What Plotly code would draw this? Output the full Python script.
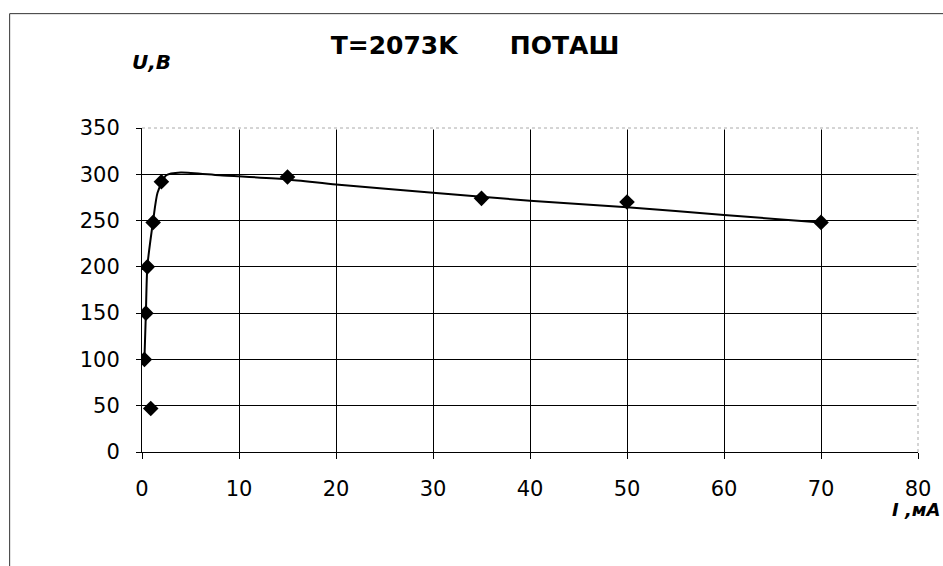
import plotly.graph_objects as go

# Measured points
I_mA = [0.9, 0.25, 0.4, 0.55, 1.15, 2.0, 15, 35, 50, 70]
U_V = [47, 100, 150, 200, 248, 292, 297, 274, 270, 248]

# Smoothed trend curve
trend_I = [0.25, 0.4, 0.55, 1.15, 1.6, 2.5, 4, 8, 15, 20, 30, 40, 50, 60, 70]
trend_U = [100, 150, 200, 250, 280, 299, 302, 299, 294.5, 289, 280, 271.5, 264.5, 256, 248]

x_ticks = [0, 10, 20, 30, 40, 50, 60, 70, 80]
y_ticks = [0, 50, 100, 150, 200, 250, 300, 350]

FONT = "DejaVu Sans"

fig = go.Figure()
fig.add_trace(go.Scatter(
    x=trend_I, y=trend_U, mode="lines",
    line=dict(color="black", width=2, shape="spline", smoothing=0.6),
    hoverinfo="skip", showlegend=False))
fig.add_trace(go.Scatter(
    x=I_mA, y=U_V, mode="markers",
    marker=dict(symbol="diamond", size=12, color="black"),
    showlegend=False))

fig.update_layout(
    width=943, height=566,
    margin=dict(l=142, r=25, t=128, b=114),
    paper_bgcolor="white", plot_bgcolor="white",
    font=dict(family=FONT, color="black", size=21),
    title=dict(text="<b>T=2073K\u00a0\u00a0\u00a0\u00a0\u00a0\u00a0ПОТАШ</b>",
               x=475/943, xanchor="center", xref="container",
               y=1-45/566, yanchor="middle", yref="container",
               font=dict(family=FONT, size=25, color="black")),
    xaxis=dict(range=[0, 80], tickvals=x_ticks, ticktext=[str(v) for v in x_ticks],
               showgrid=True, gridcolor="black", gridwidth=1,
               zeroline=False, showline=True, linecolor="black", linewidth=1,
               ticks="outside", ticklen=6, tickcolor="black",
               ticklabelstandoff=12,
               tickfont=dict(family=FONT, size=21, color="black")),
    yaxis=dict(range=[0, 350], tickvals=y_ticks, ticktext=[str(v) for v in y_ticks],
               showgrid=True, gridcolor="black", gridwidth=1,
               zeroline=False, showline=True, linecolor="black", linewidth=1,
               ticks="outside", ticklen=5, tickcolor="black",
               ticklabelstandoff=12,
               tickfont=dict(family=FONT, size=21, color="black")),
    shapes=[
        # cover top and right grid edges, redraw as light dotted border
        dict(type="line", xref="paper", yref="paper", x0=0, x1=1, y0=1, y1=1,
             line=dict(color="white", width=3), layer="above"),
        dict(type="line", xref="paper", yref="paper", x0=1, x1=1, y0=0, y1=1,
             line=dict(color="white", width=3), layer="above"),
        dict(type="line", xref="paper", yref="paper", x0=0, x1=1, y0=1, y1=1,
             line=dict(color="#aaaaaa", width=1, dash="dot"), layer="above"),
        dict(type="line", xref="paper", yref="paper", x0=1, x1=1, y0=0, y1=1,
             line=dict(color="#aaaaaa", width=1, dash="dot"), layer="above"),
        # outer chart frame
        dict(type="line", xref="paper", yref="paper",
             x0=(10-142.3)/775.7, x1=(960-142.3)/775.7,
             y0=(452.3-13)/324.7, y1=(452.3-13)/324.7,
             line=dict(color="#333333", width=1)),
        dict(type="line", xref="paper", yref="paper",
             x0=(10-142.3)/775.7, x1=(10-142.3)/775.7,
             y0=(452.3-13)/324.7, y1=(452.3-600)/324.7,
             line=dict(color="#333333", width=1)),
    ],
    annotations=[
        dict(text="<b><i>U,B</i></b>", xref="paper", yref="paper",
             x=(130-142.3)/775.7, y=(452.3-61)/324.7,
             xanchor="left", yanchor="middle", showarrow=False,
             font=dict(family=FONT, size=20, color="black")),
        dict(text="<b><i>I ,мА</i></b>", xref="paper", yref="paper",
             x=(942-142.3)/775.7, y=(452.3-510)/324.7,
             xanchor="right", yanchor="middle", showarrow=False,
             font=dict(family=FONT, size=18, color="black")),
    ],
)

fig.write_html("out.html",
               config={"displayModeBar": False},
               post_script="document.body.style.margin='0';document.body.style.padding='0';")
